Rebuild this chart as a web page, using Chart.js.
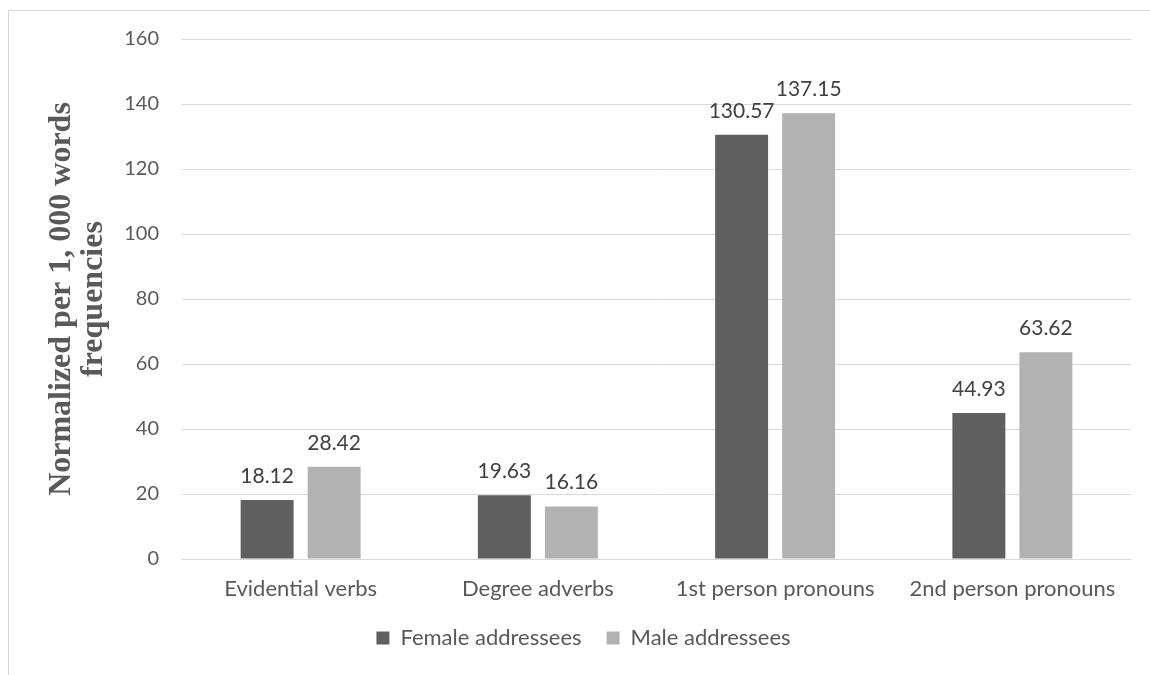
<!DOCTYPE html>
<html>
<head>
<meta charset="utf-8">
<script src="https://cdn.jsdelivr.net/npm/chart.js@4"></script>
<style>
  html, body { margin: 0; padding: 0; background: #fff; overflow: hidden; }
  #wrap { position: relative; width: 1150px; height: 675px; }
  #frame { position: absolute; left: 8px; top: 10px; width: 1200px; height: 700px; border: 1px solid #d9d9d9; }
  #chart1 { position: absolute; left: 0; top: 0; }
</style>
</head>
<body>
<div id="wrap">
  <div id="frame"></div>
  <canvas id="chart1" width="1150" height="675"></canvas>
</div>
<script>
const categories = ['Evidential verbs', 'Degree adverbs', '1st person pronouns', '2nd person pronouns'];
const femaleValues = [18.12, 19.63, 130.57, 44.93];
const maleValues = [28.42, 16.16, 137.15, 63.62];
const seriesNames = ['Female addressees', 'Male addressees'];
const yTitle = ['Normalized per 1, 000 words', 'frequencies'];

const textColor = '#595959';
const sansFont = 'Lato';

// labels above the bars
const valueLabels = {
  id: 'valueLabels',
  afterDatasetsDraw(chart) {
    const ctx = chart.ctx;
    ctx.save();
    ctx.font = '21px ' + sansFont;
    ctx.fillStyle = '#404040';
    ctx.textAlign = 'center';
    ctx.textBaseline = 'alphabetic';
    chart.data.datasets.forEach((ds, i) => {
      chart.getDatasetMeta(i).data.forEach((bar, j) => {
        ctx.fillText(ds.data[j].toFixed(2), bar.x, bar.y - 17);
      });
    });
    ctx.restore();
  }
};

const ctx = document.getElementById('chart1').getContext('2d');
new Chart(ctx, {
  type: 'bar',
  data: {
    labels: categories,
    datasets: [{
      label: seriesNames[0],
      data: femaleValues,
      backgroundColor: '#5f5f5f'
    }, {
      label: seriesNames[1],
      data: maleValues,
      backgroundColor: '#b2b2b2'
    }]
  },
  options: {
    responsive: false,
    animation: false,
    categoryPercentage: 0.565,
    barPercentage: 0.79,
    layout: {
      padding: { left: 36, right: 19, top: 39, bottom: 16 }
    },
    plugins: {
      tooltip: { enabled: false },
      legend: {
        position: 'bottom',
        labels: {
          boxWidth: 13,
          boxHeight: 13,
          padding: 25,
          color: textColor,
          font: { family: sansFont, size: 22 }
        }
      }
    },
    scales: {
      x: {
        grid: { display: false, drawTicks: false },
        border: { display: false },
        ticks: {
          color: textColor,
          padding: 19,
          font: { family: sansFont, size: 22, lineHeight: 1.0 }
        },
        afterFit(scale) { scale.height = 43; }
      },
      y: {
        min: 0,
        max: 160,
        grid: { color: '#d9d9d9', drawTicks: false },
        border: { display: false },
        ticks: {
          stepSize: 20,
          color: textColor,
          padding: 23,
          font: { family: sansFont, size: 20 }
        },
        title: {
          display: true,
          text: yTitle,
          color: textColor,
          padding: { top: 10, bottom: 0 },
          font: { family: 'Liberation Serif', size: 32, weight: 'bold', lineHeight: 1.0 }
        },
        afterFit(scale) { scale.width = 146; }
      }
    }
  },
  plugins: [valueLabels]
});
</script>
</body>
</html>
